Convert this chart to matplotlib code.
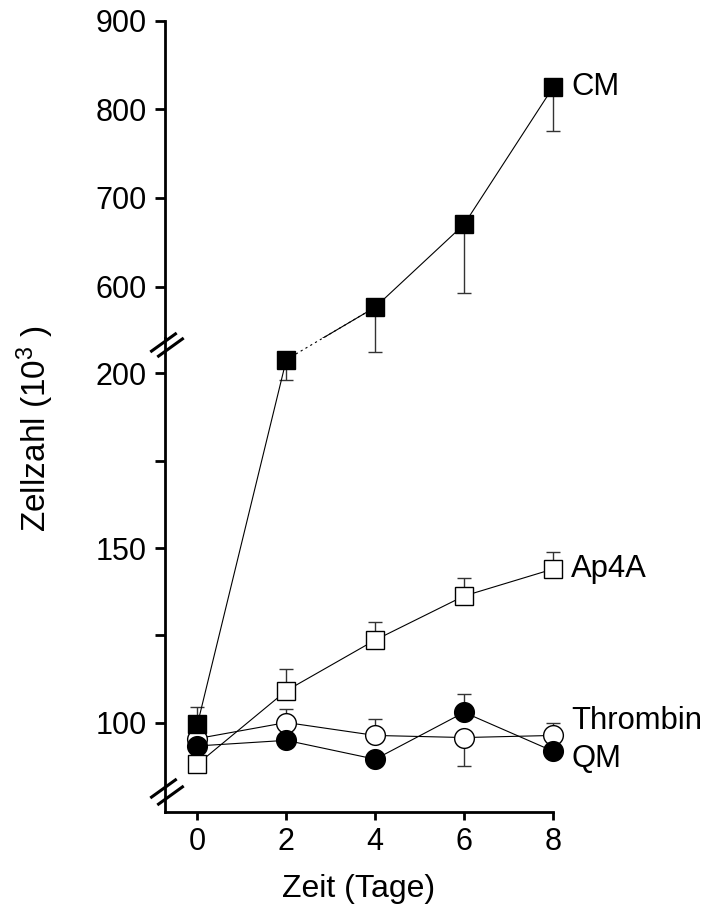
import numpy as np
import matplotlib
matplotlib.use("Agg")
import matplotlib.pyplot as plt
from matplotlib.path import Path

plt.rcParams['font.family'] = ['Liberation Sans', 'DejaVu Sans']
plt.rcParams['mathtext.fontset'] = 'custom'
plt.rcParams['mathtext.rm'] = 'Liberation Sans'
plt.rcParams['mathtext.it'] = 'Liberation Sans'

# --- data: cell counts (x 10^3) over days ---
days = [0, 2, 4, 6, 8]

cm = [99.6, 203.9, 576.7, 670.2, 824.8]
cm_err_lo = [0, 5.8, 50.7, 78.0, 49.4]
cm_err_hi = [5.0, 0, 0, 0, 0]

ap4a = [88.2, 109.2, 123.7, 136.3, 144.0]
ap4a_err_lo = [0, 0, 0, 0, 0]
ap4a_err_hi = [0, 6.3, 5.1, 5.1, 5.0]

thrombin = [95.5, 100.1, 96.4, 95.8, 96.4]
thrombin_err_lo = [0, 0, 0, 8.2, 0]
thrombin_err_hi = [0, 3.8, 4.6, 0, 3.6]

qm = [93.4, 95.0, 89.6, 103.0, 91.9]
qm_err_lo = [0, 0, 0, 0, 0]
qm_err_hi = [0, 0, 0, 5.2, 0]

series_names = ["CM", "Ap4A", "Thrombin", "QM"]
label_values = [824.8, 144.0, 100.6, 89.7]

lower_ylim = (74.5, 210.1)
upper_ylim = (541.9, 900)

FS_TICK = 22
FS_TEXT = 23
FS_SERIES = 22.3
fig = plt.figure(figsize=(7.06, 9.06), dpi=100)
ax_lo = fig.add_axes([0.2337, 0.10375, 0.5496, 0.5232])
ax_up = fig.add_axes([0.2337, 0.6269, 0.5496, 0.35025])
for ax in (ax_lo, ax_up):
    ax.patch.set_alpha(0)
    ax.set_xlim(-0.73, 8.0)
    for s in ("top", "right"):
        ax.spines[s].set_visible(False)
    ax.spines["left"].set_linewidth(2.0)
    ax.tick_params(axis="y", direction="out", length=7, width=2.0,
                   labelsize=FS_TICK, pad=6)
ax_lo.set_ylim(*lower_ylim)
ax_up.set_ylim(*upper_ylim)
ax_up.spines["bottom"].set_visible(False)
ax_up.tick_params(axis="x", bottom=False, labelbottom=False)
ax_lo.spines["bottom"].set_linewidth(2.0)
ax_lo.tick_params(axis="x", direction="out", length=6, width=2.0,
                  labelsize=FS_TICK, pad=5)
ax_lo.set_xticks(days)
ax_lo.set_yticks([100, 125, 150, 175, 200])
ax_lo.set_yticklabels(["100", "", "150", "", "200"])
ax_up.set_yticks([600, 700, 800, 900])

line_kw = dict(color="black", lw=0.8)
err_kw = dict(ecolor="#333333", elinewidth=1.0, capsize=5, capthick=1.0)


def draw(ax, x, y, lo, hi, marker, face, z):
    x = np.asarray(x); y = np.asarray(y)
    ms = 14.2 if marker == "o" else 13.0
    cont = ax.errorbar(x, y, yerr=[lo, hi], fmt="none", zorder=z, **err_kw)
    for art in cont.get_children():
        art.set_clip_on(False)
    ax.plot(x, y, zorder=z + 0.1, clip_on=False, **line_kw)
    ax.plot(x, y, ls="none", marker=marker, ms=ms, mfc=face, mec="black",
            mew=1.0, zorder=z + 0.2, clip_on=False)


draw(ax_lo, days, thrombin, thrombin_err_lo, thrombin_err_hi, "o", "white", 3)
draw(ax_lo, days, qm, qm_err_lo, qm_err_hi, "o", "black", 4)
draw(ax_lo, days, ap4a, ap4a_err_lo, ap4a_err_hi, "s", "white", 5)

# CM spans both panels
cm_arr = np.asarray(cm)
d_arr = np.asarray(days)
in_low = cm_arr <= lower_ylim[1]
lo_arr = np.asarray(cm_err_lo); hi_arr = np.asarray(cm_err_hi)
draw(ax_lo, d_arr[in_low], cm_arr[in_low], lo_arr[in_low], hi_arr[in_low],
     "s", "black", 6)
draw(ax_up, d_arr[~in_low], cm_arr[~in_low], lo_arr[~in_low], hi_arr[~in_low],
     "s", "black", 6)

# connecting segment across the axis break
i_last = np.where(in_low)[0][-1]
i_next = i_last + 1
disp = ax_lo.transData.transform((d_arr[i_last], cm_arr[i_last]))
x_b, y_b = ax_up.transData.inverted().transform(disp)
seg_x = [x_b, d_arr[i_next]]
seg_y = [y_b, cm_arr[i_next]]
ax_up.plot(seg_x, seg_y, color="black", lw=0.8, ls=(0, (2, 3)),
           clip_on=False, zorder=5)
ax_up.plot(seg_x, seg_y, color="black", lw=0.8, clip_on=True, zorder=5.5)

# series labels at the right end
label_axes = [ax_up, ax_lo, ax_lo, ax_lo]
for name, val, ax in zip(series_names, label_values, label_axes):
    ax.annotate(name, xy=(days[-1], val), xytext=(13, 0),
                textcoords="offset points", ha="left", va="center",
                fontsize=FS_SERIES, annotation_clip=False)

# axis-break marks on the y axis
slash = Path([(-1, -0.72), (1, 0.72)], [Path.MOVETO, Path.LINETO])
for ax_frac_pairs in ([(-0.0064, 0.9905), (0.0129, 0.980)],
                      [(-0.0064, 0.0506), (0.0129, 0.0359)]):
    for xf, yf in ax_frac_pairs:
        ax_lo.plot([xf], [yf], transform=ax_lo.transAxes, marker=slash,
                   ms=19, mew=2.2, color="black", clip_on=False, zorder=10)

ax_lo.set_xlabel("Zeit (Tage)", fontsize=FS_TEXT, labelpad=12)
fig.text(0.05, 0.527, "Zellzahl (10$^{3}$ )", rotation=90, fontsize=24,
         ha="center", va="center")

fig.savefig("out.png", dpi=100)
